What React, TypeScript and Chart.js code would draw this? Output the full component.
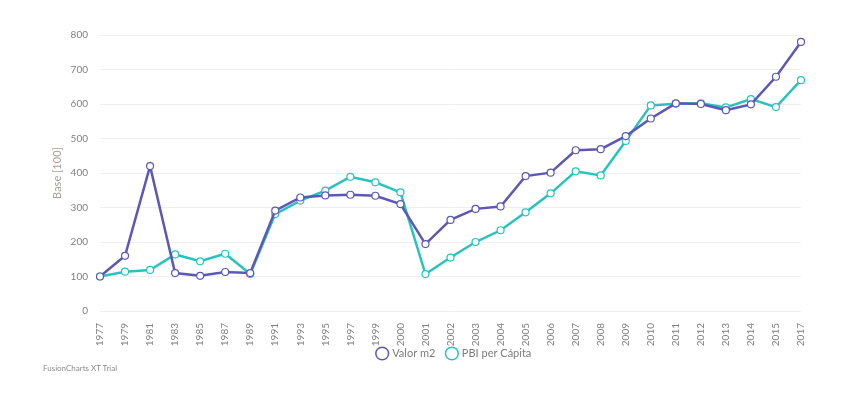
import React, { useEffect, useRef } from "react";
import { Chart, registerables } from "chart.js";

Chart.register(...registerables);

const categories = ["1977","1979","1981","1983","1985","1987","1989","1991","1993","1995","1997","1999","2000","2001","2002","2003","2004","2005","2006","2007","2008","2009","2010","2011","2012","2013","2014","2015","2017"];
const valorM2 = [100,160,420,110,102,113,110,291,329,335,337,334,310,194,264,296,303,391,401,466,469,507,558,602,600,582,599,679,780];
const pbiPerCapita = [100,114,119,164,144,166,107,281,320,349,389,373,344,107,155,200,234,286,341,405,393,493,596,601,602,590,614,591,669];
const yTicks = [0,100,200,300,400,500,600,700,800];

const PURPLE = "#5d58b5";
const TEAL = "#29c3be";
const FONT = "Lato, 'Source Sans Pro', 'Open Sans', sans-serif";

const legendShift = {
  id: "legendShift",
  afterLayout(chart: any) {
    const lg = chart.legend;
    if (lg) {
      lg.top -= 11;
      lg.bottom -= 11;
      lg.left += 4;
      lg.right += 4;
    }
  },
};

export default function App() {
  const ref = useRef<HTMLCanvasElement>(null);
  useEffect(() => {
    const canvas = ref.current!;
    const chart = new Chart(canvas, {
      type: "line",
      plugins: [legendShift],
      data: {
        labels: categories,
        datasets: [
          {
            label: "Valor m2",
            data: valorM2,
            borderColor: PURPLE,
            backgroundColor: "#ffffff",
            pointBackgroundColor: "#ffffff",
            pointBorderColor: PURPLE,
            pointRadius: 3.5,
            pointBorderWidth: 1.2,
            borderWidth: 2.5,
            tension: 0,
          },
          {
            label: "PBI per Cápita",
            data: pbiPerCapita,
            borderColor: TEAL,
            backgroundColor: "#ffffff",
            pointBackgroundColor: "#ffffff",
            pointBorderColor: TEAL,
            pointRadius: 3.5,
            pointBorderWidth: 1.2,
            borderWidth: 2.5,
            tension: 0,
          },
        ],
      },
      options: {
        animation: false,
        responsive: false,
        layout: { padding: { left: 51, right: 52, top: 35, bottom: 16 } },
        scales: {
          x: {
            offset: false,
            grid: { display: false },
            border: { display: false },
            ticks: {
              autoSkip: false,
              maxRotation: 90,
              minRotation: 90,
              color: "#7f7f7f",
              font: { family: FONT, size: 10 },
              padding: 4,
            },
            afterFit: (s: any) => { s.height = 36; },
          },
          y: {
            min: 0,
            max: 800,
            afterBuildTicks: (s: any) => { s.ticks = yTicks.map((v) => ({ value: v })); },
            grid: { color: "#efefef", lineWidth: 1, drawTicks: false },
            border: { display: false },
            ticks: {
              color: "#7f7f7f",
              font: { family: FONT, size: 10 },
              padding: 12,
            },
            title: {
              display: true,
              text: "Base [100]",
              color: "#a89e94",
              font: { family: FONT, size: 11 },
              padding: 0,
            },
            afterFit: (s: any) => { s.width = 49; },
          },
        },
        plugins: {
          legend: {
            position: "bottom",
            fullSize: false,
            labels: {
              usePointStyle: true,
              pointStyle: "circle",
              boxWidth: 9,
              boxHeight: 9,
              color: "#7c7c7c",
              font: { family: FONT, size: 11 },
              padding: 12,
              generateLabels: (c: any) =>
                c.data.datasets.map((d: any, i: number) => ({
                  text: d.label,
                  fillStyle: "#ffffff",
                  strokeStyle: d.borderColor,
                  lineWidth: 1.5,
                  pointStyle: "circle",
                  fontColor: "#7c7c7c",
                  hidden: false,
                  datasetIndex: i,
                })),
            },
          },
          tooltip: { enabled: false },
        },
      },
    });
    return () => chart.destroy();
  }, []);
  return (
    <div style={{ position: "fixed", left: 0, top: 0, width: 853, height: 396, background: "#fff" }}>
      <canvas ref={ref} width={853} height={396} style={{ display: "block" }} />
      <div style={{ position: "absolute", left: 43, top: 363, fontFamily: FONT, fontSize: 8, color: "#8a8a8a" }}>
        FusionCharts XT Trial
      </div>
    </div>
  );
}
